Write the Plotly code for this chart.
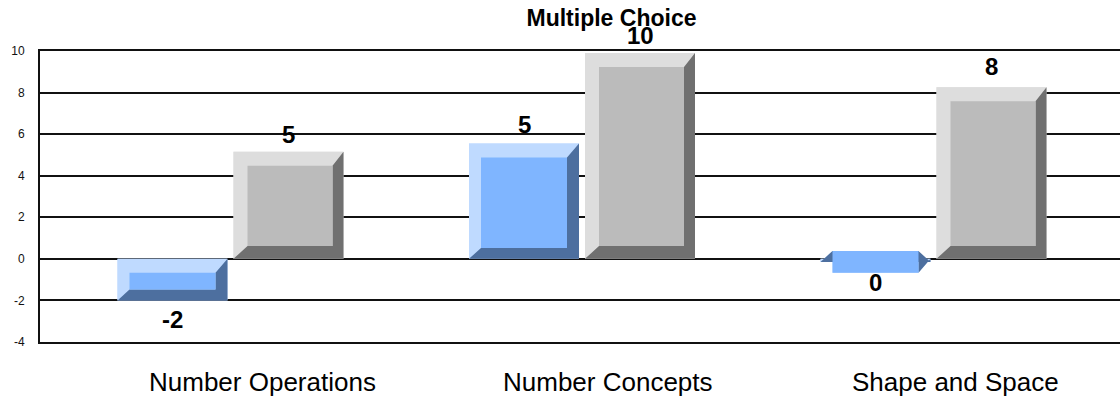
import plotly.graph_objects as go

# Data
categories = ["Number Operations", "Number Concepts", "Shape and Space"]
blue_values = [-2.0, 5.55, -0.15]
gray_values = [5.15, 9.9, 8.25]
blue_labels = ["-2", "5", "0"]
gray_labels = ["5", "10", "8"]
y_ticks = [-4, -2, 0, 2, 4, 6, 8, 10]

# Styles and layout
W, H = 1120, 401
M_L, M_R, M_T, M_B = 40, 0, 50.5, 59
PX_X = 351.5          # pixels per group
GROUP0_PX = 230.5     # pixel of the first group's centre
PX_Y = (H - M_T - M_B) / 14
BAR_W = 110 / PX_X
BAR_OFF = 58 / PX_X
FONT = "Liberation Sans"
BLUE_LABEL_SHIFT = [-5, 5, -6]
GRAY_LABEL_SHIFT = [3, 3, 6]
CATEGORY_NUDGE = [-84, -81.5, -83.5]

BLUE = dict(light="#BFDAFF", face="#7FB5FF", dark="#4D6F9F", l=12, r=12, t=14, b=11)
GRAY = dict(light="#DDDDDD", face="#BBBBBB", dark="#707070", l=14, r=11, t=14, b=13)

x_range = [(M_L - GROUP0_PX) / PX_X, (W - M_R - GROUP0_PX) / PX_X]


def poly(pts):
    return [p[0] for p in pts] + [pts[0][0], None], [p[1] for p in pts] + [pts[0][1], None]


def add_series(fig, values, shift, st, name):
    xs = [i + shift for i in range(len(values))]
    fig.add_trace(go.Bar(x=xs, y=values, width=BAR_W, marker=dict(color=st["light"], line_width=0),
                         name=name, hoverinfo="skip"))
    lx, ly, dx, dy, fx, fy = [], [], [], [], [], []
    for x, v in zip(xs, values):
        x0, x1 = x - BAR_W / 2, x + BAR_W / 2
        top, bot = max(v, 0), min(v, 0)
        ix0, ix1 = x0 + st["l"] / PX_X, x1 - st["r"] / PX_X
        it, ib = top - st["t"] / PX_Y, bot + st["b"] / PX_Y
        for pts, X, Y in [
            ([(x0, top), (x1, top), (ix1, it), (ix0, it)], lx, ly),
            ([(x0, top), (ix0, it), (ix0, ib), (x0, bot)], lx, ly),
            ([(x1, top), (x1, bot), (ix1, ib), (ix1, it)], dx, dy),
            ([(x0, bot), (x1, bot), (ix1, ib), (ix0, ib)], dx, dy),
            ([(ix0, it), (ix1, it), (ix1, ib), (ix0, ib)], fx, fy),
        ]:
            a, b = poly(pts)
            X += a
            Y += b
    for X, Y, c in [(lx, ly, st["light"]), (dx, dy, st["dark"]), (fx, fy, st["face"])]:
        fig.add_trace(go.Scatter(x=X, y=Y, mode="lines", fill="toself", fillcolor=c,
                                 line=dict(width=0, color=c), hoverinfo="skip", showlegend=False))


fig = go.Figure()
add_series(fig, blue_values, -BAR_OFF, BLUE, "Series 1")
add_series(fig, gray_values, BAR_OFF, GRAY, "Series 2")

annotations = []
for shift, values, labels, nudges in [(-BAR_OFF, blue_values, blue_labels, BLUE_LABEL_SHIFT),
                                      (BAR_OFF, gray_values, gray_labels, GRAY_LABEL_SHIFT)]:
    for i, (v, t, n) in enumerate(zip(values, labels, nudges)):
        up = v >= 0
        annotations.append(dict(x=i + shift, y=v, text="<b>" + t + "</b>", showarrow=False,
                                xanchor="center", yanchor="bottom" if up else "top",
                                yshift=n,
                                font=dict(family=FONT, size=24, color="#000000"), borderpad=0))

for i, c in enumerate(categories):
    annotations.append(dict(x=i + CATEGORY_NUDGE[i] / PX_X, xref="x", y=-(382 - (H - M_B)) / (H - M_T - M_B),
                            yref="paper", yanchor="middle", xanchor="left", text=c, showarrow=False,
                            font=dict(family=FONT, size=26, color="#000000")))

fig.update_layout(
    width=W, height=H, showlegend=False, barmode="overlay",
    margin=dict(l=M_L, r=M_R, t=M_T, b=M_B, autoexpand=False),
    paper_bgcolor="white", plot_bgcolor="white",
    title=dict(text="<b>Multiple Choice</b>", x=611.5 / W, xanchor="center", y=1 - 18 / H, yanchor="middle",
               font=dict(family=FONT, size=23, color="#000000")),
    xaxis=dict(range=x_range, showgrid=False, zeroline=False, showticklabels=False, ticks="",
               showline=True, mirror=True, linecolor="#111111", linewidth=2),
    yaxis=dict(range=[-4, 10], tickvals=y_ticks, ticktext=[str(t) for t in y_ticks],
               showgrid=True, gridcolor="#111111", gridwidth=2, zeroline=True, zerolinecolor="#111111",
               zerolinewidth=2, showline=True, linecolor="#111111", linewidth=2, ticks="",
               tickfont=dict(family=FONT, size=12, color="#111111"), ticklabelstandoff=11),
    annotations=annotations,
)

fig.write_html("out.html", config=dict(displayModeBar=False),
               post_script="document.body.style.margin='0';document.body.style.overflow='hidden';")
